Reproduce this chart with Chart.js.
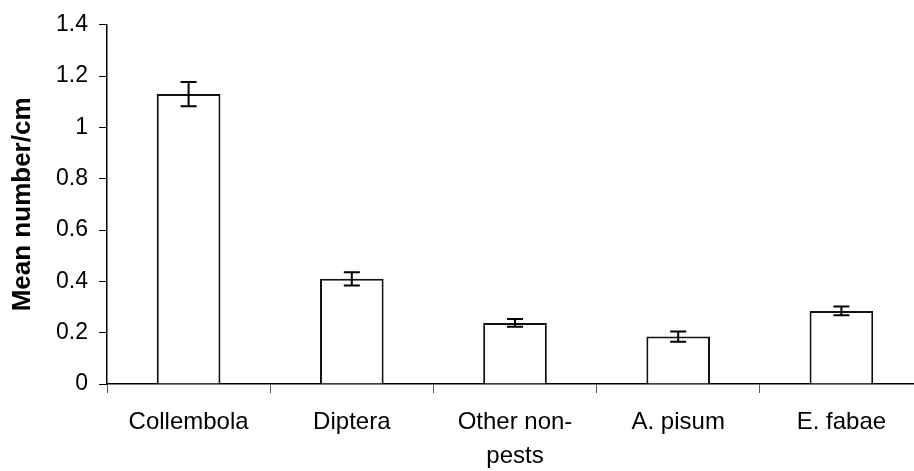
<!DOCTYPE html>
<html>
<head>
<meta charset="utf-8">
<script src="https://cdn.jsdelivr.net/npm/chart.js@4/dist/chart.umd.min.js"></script>
<style>
  html, body { margin: 0; padding: 0; background: #fff; overflow: hidden; }
</style>
</head>
<body>
<canvas id="chart" width="930" height="471"></canvas>
<script>
// data
const categories = ['Collembola', 'Diptera', ['Other non-', 'pests'], 'A. pisum', 'E. fabae'];
const meanValues = [1.13, 0.41, 0.238, 0.185, 0.285];
const errorValues = [0.047, 0.026, 0.015, 0.02, 0.017];
const yTicks = [0, 0.2, 0.4, 0.6, 0.8, 1, 1.2, 1.4];

// draws the error bars through the y scale
const errorBarPlugin = {
  id: 'errorBars',
  afterDatasetsDraw(chart) {
    const ctx = chart.ctx;
    const yScale = chart.scales.y;
    const meta = chart.getDatasetMeta(0);
    ctx.save();
    ctx.strokeStyle = '#000';
    ctx.lineWidth = 2;
    meta.data.forEach((bar, i) => {
      let top = yScale.getPixelForValue(meanValues[i] + errorValues[i]);
      let bottom = yScale.getPixelForValue(meanValues[i] - errorValues[i]);
      let x = bar.x;
      ctx.beginPath();
      ctx.moveTo(x, top);
      ctx.lineTo(x, bottom);
      ctx.moveTo(x - 8, top);
      ctx.lineTo(x + 8, top);
      ctx.moveTo(x - 8, bottom);
      ctx.lineTo(x + 8, bottom);
      ctx.stroke();
    });
    ctx.restore();
  }
};

let ctx = document.getElementById('chart').getContext('2d');
new Chart(ctx, {
  type: 'bar',
  data: {
    labels: categories,
    datasets: [{
      data: meanValues,
      backgroundColor: '#fff',
      borderColor: '#111',
      borderWidth: 2,
      barPercentage: 0.39,
      categoryPercentage: 1
    }]
  },
  options: {
    responsive: false,
    animation: false,
    layout: { padding: { top: 21, right: 7, bottom: 0, left: 0 } },
    plugins: {
      legend: { display: false },
      tooltip: { enabled: false }
    },
    scales: {
      x: {
        afterFit(scale) { scale.height = 87; },
        grid: {
          offset: true,
          drawOnChartArea: false,
          tickLength: 9,
          color: '#555',
          lineWidth: 1
        },
        border: { color: '#000', width: 1.5 },
        ticks: {
          color: '#000',
          padding: 13,
          maxRotation: 0,
          autoSkip: false,
          font: { family: 'Liberation Sans, Arial, sans-serif', size: 24, lineHeight: 1.4 }
        }
      },
      y: {
        min: 0,
        max: 1.4,
        afterFit(scale) { scale.width = 107; },
        afterBuildTicks(scale) { scale.ticks = yTicks.map(v => ({ value: v })); },
        grid: {
          drawOnChartArea: false,
          tickLength: 8,
          color: '#000',
          lineWidth: 1
        },
        border: { color: '#000', width: 1.5 },
        ticks: {
          color: '#000',
          padding: 11,
          callback: v => String(v),
          font: { family: 'Liberation Sans, Arial, sans-serif', size: 23 }
        },
        title: {
          display: true,
          text: 'Mean number/cm',
          color: '#000',
          padding: { top: 7, bottom: 0 },
          font: { family: 'Liberation Sans, Arial, sans-serif', size: 26, weight: 'bold' }
        }
      }
    }
  },
  plugins: [errorBarPlugin]
});
</script>
</body>
</html>
